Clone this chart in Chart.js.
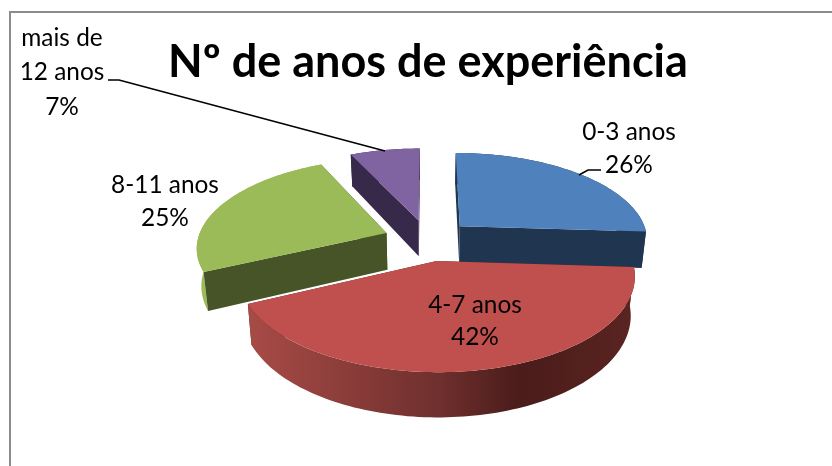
<!DOCTYPE html>
<html><head><meta charset="utf-8">
<style>html,body{margin:0;padding:0;background:#fff;overflow:hidden}#w{width:832px;height:466px;position:relative}</style>
<script src="https://cdn.jsdelivr.net/npm/chart.js@4"></script>
</head><body><div id="w"><canvas id="c" width="832" height="466"></canvas></div>
<script>
const chartTitle = 'Nº de anos de experiência';
const categories = ['0-3 anos', '4-7 anos', '8-11 anos', 'mais de 12 anos'];
const percentages = [26, 42, 25, 7];
const topColors = ['#4F81BD', '#C0504D', '#9BBB59', '#8064A2'];
const cutColors = ['#1F3550', '#4F1E1C', '#465427', '#37294A'];
const rimStops = [
  [[0, '#1F3550'], [1, '#1F3550']],
  [[0, '#A84B47'], [0.5, '#6E2F2D'], [0.7, '#4A1C1A'], [1, '#5A2421']],
  [[0, '#9BBB59'], [1, '#9BBB59']],
  [[0, '#37294A'], [1, '#37294A']]
];
// label text lines and where each block sits
const labelLines = [['0-3 anos', '26%'], ['4-7 anos', '42%'], ['8-11 anos', '25%'], ['mais de', '12 anos', '7%']];
const labelAnchors = [[629, 132, 33], [475, 305, 32], [165, 185, 33], [62, 38, 34.5]];
const leaders = [[[579, 175], [588, 170], [601, 170]], [[108, 80], [119, 80], [385, 151]]];

// perspective camera for the tilted pie
const tilt = 0.4646, recede = 0.1475, wallDepth = 37, wallShrink = 0.98;
function project(el, u, v, down) {
  const w = 1 + recede * v;
  const k = down ? wallShrink : 1;
  return [el.x + el.outerRadius * k * u / w,
          el.y - el.outerRadius * tilt * v / w + (down ? wallDepth / w : 0)];
}
function sliceGeometry(el) {
  const mid = (el.startAngle + el.endAngle) / 2;
  const e = el.options.offset / el.outerRadius;
  const ou = Math.cos(mid) * e, ov = -Math.sin(mid) * e;
  const arc = [];
  const n = Math.max(8, Math.ceil((el.endAngle - el.startAngle) * 40));
  for (let i = 0; i <= n; i++) {
    const a = el.startAngle + (el.endAngle - el.startAngle) * i / n;
    arc.push([Math.cos(a) + ou, -Math.sin(a) + ov]);
  }
  return {apex: [ou, ov], arc};
}
function fillPoly(ctx, pts, fill) {
  ctx.beginPath();
  pts.forEach((p, i) => i ? ctx.lineTo(p[0], p[1]) : ctx.moveTo(p[0], p[1]));
  ctx.closePath();
  ctx.fillStyle = fill;
  ctx.fill();
}
const pie3d = {
  id: 'pie3d',
  beforeDraw(chart) {
    const ctx = chart.ctx;
    ctx.save();
    ctx.strokeStyle = '#8C8C8C';
    ctx.lineWidth = 2;
    ctx.strokeRect(10, 12, 830, 470);
    ctx.restore();
  },
  beforeDatasetDraw(chart, args) {
    const ctx = chart.ctx;
    const arcs = args.meta.data;
    const order = arcs.map((el, i) => i).sort((a, b) => {
      const g = i => { const s = sliceGeometry(arcs[i]); return s.apex[1]; };
      return g(b) - g(a);
    });
    ctx.save();
    for (const i of order) {
      const el = arcs[i];
      const {apex, arc} = sliceGeometry(el);
      const first = arc[0], last = arc[arc.length - 1];
      const walls = [];
      const face = (a, b) => [project(el, a[0], a[1], false), project(el, b[0], b[1], false),
                              project(el, b[0], b[1], true), project(el, a[0], a[1], true)];
      const rimTop = arc.map(p => project(el, p[0], p[1], false));
      const rimBot = arc.map(p => project(el, p[0], p[1], true)).reverse();
      const xs = rimTop.map(p => p[0]);
      const g = ctx.createLinearGradient(Math.min(...xs), 0, Math.max(...xs), 0);
      rimStops[i].forEach(s => g.addColorStop(s[0], s[1]));
      const meanV = arc.reduce((t, p) => t + p[1], 0) / arc.length;
      walls.push({v: meanV, pts: rimTop.concat(rimBot), fill: g});
      walls.push({v: (apex[1] + first[1]) / 2, pts: face(apex, first), fill: cutColors[i]});
      walls.push({v: (apex[1] + last[1]) / 2, pts: face(apex, last), fill: cutColors[i]});
      walls.sort((a, b) => b.v - a.v).forEach(w => fillPoly(ctx, w.pts, w.fill));
      fillPoly(ctx, [project(el, apex[0], apex[1], false)].concat(rimTop), topColors[i]);
    }
    ctx.restore();
    return false;
  },
  afterDatasetsDraw(chart) {
    const ctx = chart.ctx;
    ctx.save();
    ctx.fillStyle = '#000';
    ctx.strokeStyle = '#000';
    ctx.lineWidth = 1.6;
    ctx.font = '24.4px Lato';
    ctx.textAlign = 'center';
    ctx.textBaseline = 'middle';
    labelLines.forEach((lines, i) => {
      const [x, y, step] = labelAnchors[i];
      lines.forEach((t, j) => ctx.fillText(t, x, y + j * step));
    });
    leaders.forEach(line => {
      ctx.beginPath();
      line.forEach((p, i) => i ? ctx.lineTo(p[0], p[1]) : ctx.moveTo(p[0], p[1]));
      ctx.stroke();
    });
    ctx.restore();
  }
};
new Chart(document.getElementById('c'), {
  type: 'pie',
  plugins: [pie3d],
  data: {
    labels: categories,
    datasets: [{data: percentages, backgroundColor: topColors, borderWidth: 0, offset: 44.6, radius: 189}]
  },
  options: {
    responsive: false,
    animation: false,
    layout: {padding: {left: 24, top: 0, right: 0, bottom: 75}},
    plugins: {
      legend: {display: false},
      tooltip: {enabled: false},
      title: {display: true, text: chartTitle, color: '#000',
              font: {family: 'Lato', size: 45, weight: 'bold', lineHeight: 1.2},
              padding: {top: 35, bottom: 0}}
    }
  }
});
</script></body></html>
